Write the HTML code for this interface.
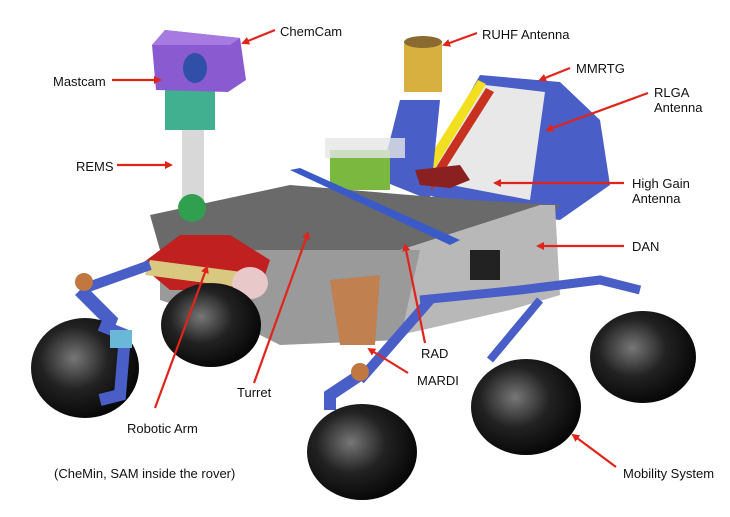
<!DOCTYPE html>
<html><head><meta charset="utf-8"><style>
html,body{margin:0;padding:0;background:#fff;}
svg{display:block;}
text{font-family:"Liberation Sans",sans-serif;font-size:13px;fill:#111;}
</style></head><body>
<svg width="730" height="517" viewBox="0 0 730 517" xmlns="http://www.w3.org/2000/svg">
<defs>
<radialGradient id="tire" cx="0.4" cy="0.4" r="0.7">
<stop offset="0" stop-color="#777"/><stop offset="0.45" stop-color="#222"/><stop offset="1" stop-color="#000"/>
</radialGradient>
<marker id="ah" markerWidth="8" markerHeight="8" refX="6" refY="4" orient="auto" markerUnits="userSpaceOnUse">
<path d="M0,0 L8,4 L0,8 Z" fill="#e0241b"/></marker>
</defs>

<!-- MMRTG -->
<polygon points="415,190 480,75 560,82 600,120 610,185 560,220 470,210" fill="#4a5ec8"/>
<polygon points="425,180 485,85 545,92 530,200" fill="#e8e8e8"/>
<polygon points="415,180 478,80 486,84 424,186" fill="#f2e020"/>
<polygon points="425,185 486,88 494,92 432,190" fill="#c83020"/>
<!-- RUHF mast -->
<polygon points="380,180 400,100 440,100 430,200" fill="#4a5ec8"/>
<rect x="404" y="42" width="38" height="50" fill="#d8b040"/>
<ellipse cx="423" cy="42" rx="19" ry="6" fill="#8a6a30"/>
<!-- green box -->
<rect x="330" y="150" width="60" height="40" fill="#7ab840"/>
<rect x="325" y="138" width="80" height="20" fill="#e6e6e6" opacity="0.8"/>
<!-- HGA -->
<polygon points="415,170 460,165 470,180 450,188 420,185" fill="#8b2020"/>
<!-- deck top -->
<polygon points="150,215 290,185 470,200 560,205 540,230 420,250 160,250" fill="#6a6a6a"/>
<!-- side face -->
<polygon points="400,250 540,205 555,205 560,295 510,310 400,335" fill="#b8b8b8"/>
<rect x="470" y="250" width="30" height="30" fill="#222"/>
<!-- front face -->
<polygon points="160,250 420,250 400,340 280,345 250,330 160,300" fill="#9a9a9a"/>
<polygon points="330,280 380,275 375,345 340,345" fill="#c08050"/>
<!-- blue rail -->
<polygon points="290,170 300,168 460,240 450,245" fill="#3a5ac8"/>
<!-- robotic arm -->
<polygon points="140,265 180,235 230,235 270,260 260,290 170,290" fill="#c02020"/>
<polygon points="150,260 265,275 260,290 145,275" fill="#d8c880"/>
<ellipse cx="250" cy="283" rx="18" ry="16" fill="#e8c8c8"/>
<rect x="225" y="315" width="30" height="18" fill="#50c8c8"/>
<!-- mast -->
<rect x="182" y="110" width="22" height="100" fill="#d8d8d8"/>
<circle cx="192" cy="208" r="14" fill="#30a050"/>
<rect x="165" y="90" width="50" height="40" fill="#40b090"/>
<!-- ChemCam -->
<polygon points="152,45 165,30 240,38 246,80 228,92 156,90" fill="#8a5ad0"/>
<polygon points="165,30 240,38 230,45 152,45" fill="#a67ae0"/>
<ellipse cx="195" cy="68" rx="12" ry="15" fill="#3050a8"/>
<!-- suspension -->
<path d="M80,290 L150,265" stroke="#4a5ec8" stroke-width="10"/>
<path d="M80,290 L110,320 L100,345" stroke="#4a5ec8" stroke-width="14" fill="none"/>
<path d="M420,300 L520,290 L600,280 L640,290" stroke="#4a5ec8" stroke-width="9" fill="none"/>
<path d="M540,300 L490,360" stroke="#4a5ec8" stroke-width="8"/>
<path d="M430,300 L360,380" stroke="#4a5ec8" stroke-width="10"/>
<path d="M360,375 L330,395 L330,410" stroke="#4a5ec8" stroke-width="12" fill="none"/>
<circle cx="84" cy="282" r="9" fill="#c07840"/>
<circle cx="360" cy="372" r="9" fill="#c07840"/>
<!-- wheels -->
<ellipse cx="211" cy="325" rx="50" ry="42" fill="url(#tire)"/>
<ellipse cx="643" cy="357" rx="53" ry="46" fill="url(#tire)"/>
<ellipse cx="526" cy="407" rx="55" ry="48" fill="url(#tire)"/>
<ellipse cx="362" cy="452" rx="55" ry="48" fill="url(#tire)"/>
<ellipse cx="85" cy="368" rx="54" ry="50" fill="url(#tire)"/>
<path d="M100,325 L125,335 L120,395 L100,400" stroke="#4a5ec8" stroke-width="12" fill="none"/>
<rect x="110" y="330" width="22" height="18" fill="#6ab8d8"/>

<!-- arrows -->
<g stroke="#e0241b" stroke-width="2.2" fill="none" marker-end="url(#ah)">
<line x1="275" y1="30" x2="243" y2="43"/>
<line x1="112" y1="80" x2="160" y2="80"/>
<line x1="117" y1="165" x2="171" y2="165"/>
<line x1="477" y1="33" x2="444" y2="45"/>
<line x1="570" y1="68" x2="540" y2="80"/>
<line x1="648" y1="93" x2="547" y2="130"/>
<line x1="624" y1="183" x2="495" y2="183"/>
<line x1="624" y1="246" x2="538" y2="246"/>
<line x1="425" y1="343" x2="405" y2="245"/>
<line x1="408" y1="373" x2="369" y2="349"/>
<line x1="254" y1="383" x2="308" y2="233"/>
<line x1="155" y1="408" x2="207" y2="267"/>
<line x1="616" y1="467" x2="573" y2="435"/>
</g>

<!-- labels -->
<text x="280" y="36">ChemCam</text>
<text x="53" y="86">Mastcam</text>
<text x="76" y="171">REMS</text>
<text x="482" y="39">RUHF Antenna</text>
<text x="576" y="73">MMRTG</text>
<text x="654" y="97">RLGA</text>
<text x="654" y="112">Antenna</text>
<text x="632" y="188">High Gain</text>
<text x="632" y="203">Antenna</text>
<text x="632" y="251">DAN</text>
<text x="421" y="358">RAD</text>
<text x="417" y="385">MARDI</text>
<text x="237" y="397">Turret</text>
<text x="127" y="433">Robotic Arm</text>
<text x="623" y="478">Mobility System</text>
<text x="54" y="478">(CheMin, SAM inside the rover)</text>
</svg>
</body></html>
